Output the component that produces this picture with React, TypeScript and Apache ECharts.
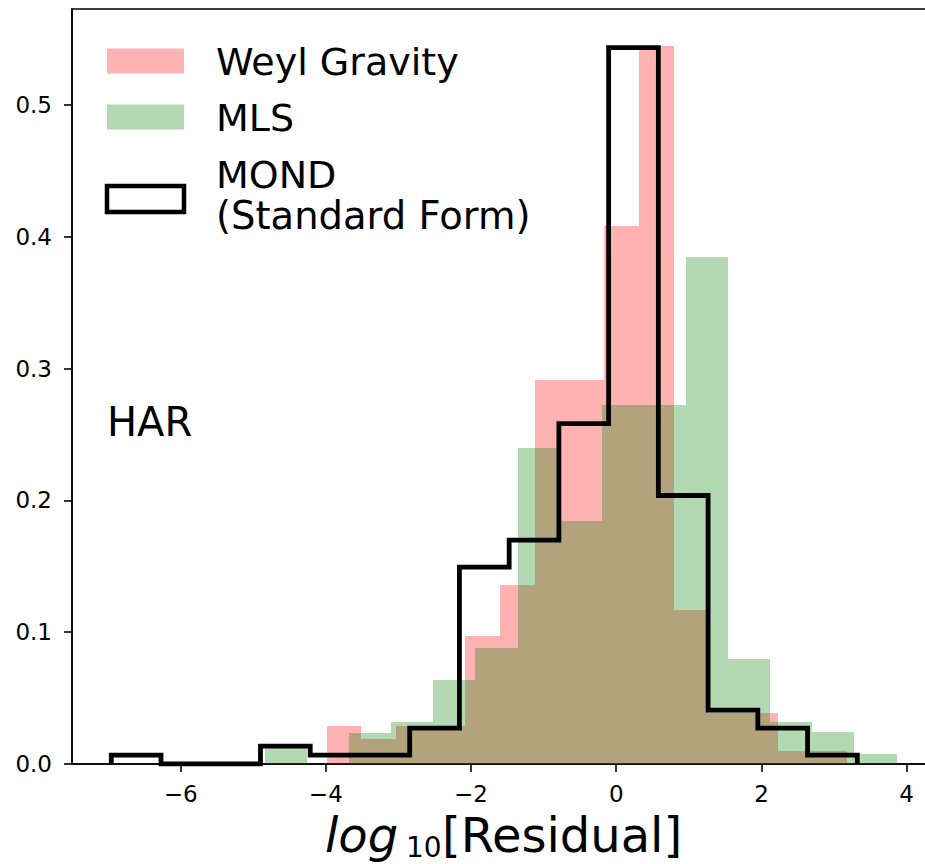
import React, { useEffect, useRef } from 'react';
import * as echarts from 'echarts';

// Bin edges and densities
const weylEdges = [-3.99, -3.512, -3.034, -2.556, -2.078, -1.6, -1.122, -0.644, -0.166, 0.312, 0.79, 1.268, 1.746, 2.224, 2.702, 3.18];
const weylDensity = [0.029, 0.0192, 0.029, 0.0285, 0.097, 0.136, 0.2916, 0.2916, 0.4082, 0.545, 0.1168, 0.0389, 0.0389, 0.0095, 0.0095];

const mlsEdges = [-4.84, -4.26, -3.68, -3.1, -2.52, -1.94, -1.36, -0.78, -0.2, 0.38, 0.96, 1.54, 2.12, 2.7, 3.28, 3.86];
const mlsDensity = [0.0155, 0, 0.0238, 0.032, 0.064, 0.088, 0.2398, 0.184, 0.2725, 0.2725, 0.3843, 0.08, 0.0317, 0.024, 0.0078];

const mondEdges = [-6.955, -6.27, -5.585, -4.9, -4.215, -3.53, -2.845, -2.16, -1.475, -0.79, -0.105, 0.58, 1.265, 1.95, 2.635, 3.32];
const mondDensity = [0.0068, 0, 0, 0.0136, 0.0068, 0.0068, 0.0272, 0.1494, 0.1698, 0.2582, 0.5435, 0.2037, 0.0408, 0.0272, 0.0068];

const xTicks = [-6, -4, -2, 0, 2, 4];
const yTicks = [0, 0.1, 0.2, 0.3, 0.4, 0.5];

const FONT = 'DejaVu Sans';

function binData(edges: number[], dens: number[]) {
  return dens.map((d, i) => [edges[i], edges[i + 1], d]);
}

function stepData(edges: number[], dens: number[]) {
  const pts: number[][] = [[edges[0], 0]];
  dens.forEach((d, i) => pts.push([edges[i + 1], d]));
  pts.push([edges[edges.length - 1], 0]);
  return pts;
}

function histSeries(name: string, edges: number[], dens: number[], color: string) {
  return {
    type: 'custom',
    name,
    data: binData(edges, dens),
    encode: { x: [0, 1], y: 2 },
    clip: true,
    renderItem: (params: any, api: any) => {
      const x0 = api.value(0);
      const x1 = api.value(1);
      const h = api.value(2);
      if (!(h > 0)) return null;
      const p0 = api.coord([x0, h]);
      const p1 = api.coord([x1, 0]);
      const left = Math.round(p0[0]);
      const right = Math.round(p1[0]);
      const top = Math.round(p0[1]);
      const bottom = Math.round(p1[1]);
      return {
        type: 'rect',
        shape: { x: left, y: top, width: right - left, height: bottom - top },
        style: { fill: color, stroke: null },
      };
    },
  };
}

const fmtMinus = (v: number) => (v < 0 ? '\u2212' + Math.abs(v) : String(v));

export default function App() {
  const ref = useRef<HTMLDivElement>(null);
  useEffect(() => {
    const chart = echarts.init(ref.current!, null, { renderer: 'svg' });
    const option: any = {
      animation: false,
      backgroundColor: '#ffffff',
      textStyle: { fontFamily: FONT },
      grid: {
        left: 72,
        top: 9,
        width: 864,
        height: 755,
        show: true,
        borderColor: '#000',
        borderWidth: 1.6,
        backgroundColor: 'transparent',
      },
      xAxis: {
        type: 'value',
        min: -7.496,
        max: 4.404,
        axisLine: { show: true, onZero: false, lineStyle: { color: '#000', width: 1.6 } },
        axisTick: { show: true, length: 8, lineStyle: { color: '#000', width: 1.6 }, customValues: xTicks },
        axisLabel: {
          customValues: xTicks,
          formatter: (v: number) => fmtMinus(v),
          color: '#000',
          fontSize: 23,
          lineHeight: 23,
          margin: 18,
          fontFamily: FONT,
        },
        splitLine: { show: false },
      },
      yAxis: {
        type: 'value',
        min: 0,
        max: 0.5728,
        axisLine: { show: true, onZero: false, lineStyle: { color: '#000', width: 1.6 } },
        axisTick: { show: true, length: 8, lineStyle: { color: '#000', width: 1.6 }, customValues: yTicks },
        axisLabel: {
          customValues: yTicks,
          formatter: (v: number) => v.toFixed(1),
          color: '#000',
          fontSize: 23,
          margin: 20,
          fontFamily: FONT,
        },
        splitLine: { show: false },
      },
      series: [
        histSeries('Weyl Gravity', weylEdges, weylDensity, 'rgba(255,0,0,0.3)'),
        histSeries('MLS', mlsEdges, mlsDensity, 'rgba(0,128,0,0.3)'),
        {
          type: 'line',
          name: 'MOND (Standard Form)',
          data: stepData(mondEdges, mondDensity),
          step: 'start',
          symbol: 'none',
          clip: true,
          lineStyle: { color: '#000', width: 4.8, join: 'miter', cap: 'butt' },
          z: 5,
        },
      ],
      graphic: [
        { type: 'rect', shape: { x: 107, y: 48.5, width: 77, height: 25 }, style: { fill: 'rgba(255,0,0,0.3)' } },
        { type: 'rect', shape: { x: 107, y: 104.5, width: 77, height: 25 }, style: { fill: 'rgba(0,128,0,0.3)' } },
        { type: 'rect', shape: { x: 107, y: 186, width: 77, height: 26 }, style: { fill: 'none', stroke: '#000', lineWidth: 4.5 } },
        { type: 'text', x: 216, y: 62, style: { text: 'Weyl Gravity', font: `38px "${FONT}"`, fill: '#000', textVerticalAlign: 'middle' } },
        { type: 'text', x: 216, y: 118, style: { text: 'MLS', font: `38px "${FONT}"`, fill: '#000', textVerticalAlign: 'middle' } },
        { type: 'text', x: 216, y: 174.5, style: { text: 'MOND', font: `38px "${FONT}"`, fill: '#000', textVerticalAlign: 'middle' } },
        { type: 'text', x: 216, y: 215, style: { text: '(Standard Form)', font: `38.5px "${FONT}"`, fill: '#000', textVerticalAlign: 'middle' } },
        { type: 'text', x: 107, y: 422, style: { text: 'HAR', font: `40px "${FONT}"`, fill: '#000', textVerticalAlign: 'middle' } },
        { type: 'text', x: 325, y: 835, style: { text: 'log', font: `italic 48px "${FONT}"`, fill: '#000', textVerticalAlign: 'middle', lineHeight: 40 } },
        { type: 'text', x: 406, y: 847, style: { text: '10', font: `28px "${FONT}"`, fill: '#000', textVerticalAlign: 'middle', lineHeight: 22 } },
        { type: 'text', x: 442, y: 835, style: { text: '[Residual]', font: `48px "${FONT}"`, fill: '#000', textVerticalAlign: 'middle', lineHeight: 40 } },
      ],
    };
    chart.setOption(option);
    return () => chart.dispose();
  }, []);
  return (
    <div style={{ position: 'absolute', left: 0, top: 0, width: 925, height: 864, overflow: 'hidden', background: '#fff' }}>
      <div ref={ref} style={{ position: 'absolute', left: 0, top: 0, width: 960, height: 864 }} />
    </div>
  );
}
